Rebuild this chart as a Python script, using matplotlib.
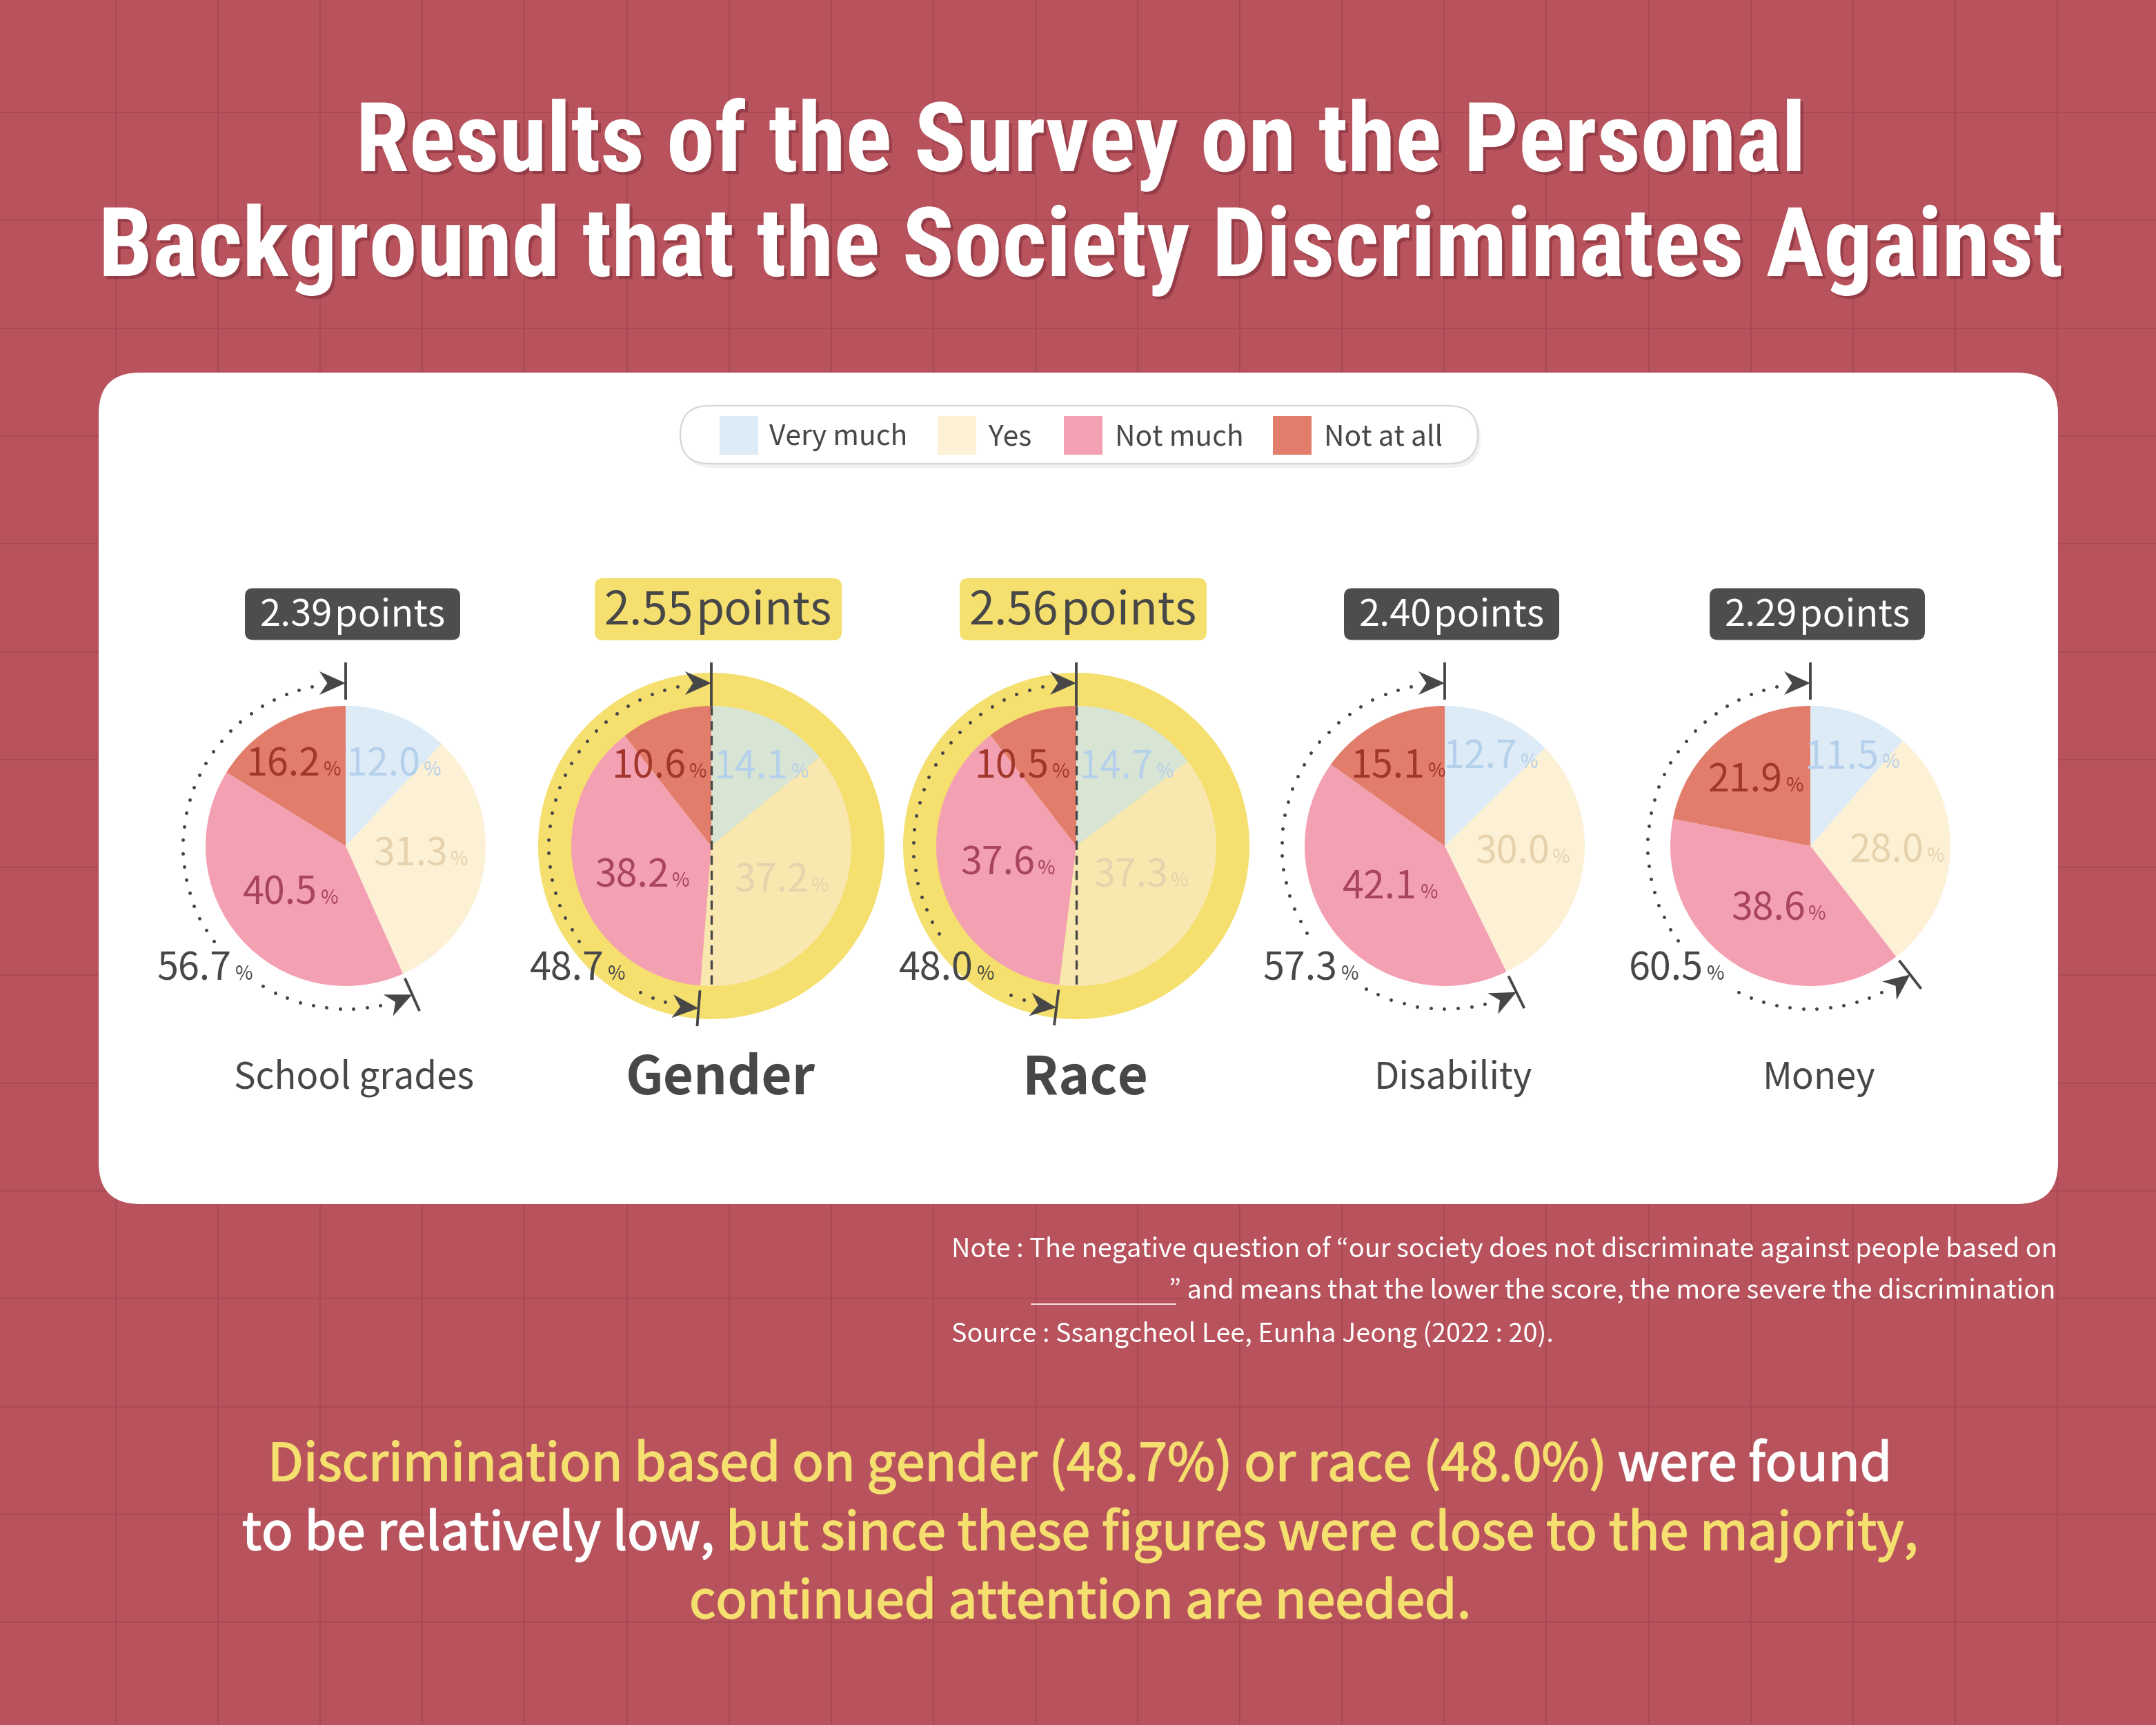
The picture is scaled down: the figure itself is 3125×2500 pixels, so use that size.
import numpy as np
import matplotlib
matplotlib.use('Agg')
import matplotlib.pyplot as plt
from matplotlib.patches import FancyBboxPatch, Circle, Polygon, Rectangle
import matplotlib.patheffects as pe

# ---- data ----
categories = ['School grades', 'Gender', 'Race', 'Disability', 'Money']
responses = ['Very much', 'Yes', 'Not much', 'Not at all']
very_much = [12.0, 14.1, 14.7, 12.7, 11.5]
yes = [31.3, 37.2, 37.3, 30.0, 28.0]
not_much = [40.5, 38.2, 37.6, 42.1, 38.6]
not_at_all = [16.2, 10.6, 10.5, 15.1, 21.9]
negative_total = [56.7, 48.7, 48.0, 57.3, 60.5]
scores = [2.39, 2.55, 2.56, 2.40, 2.29]
highlighted = [False, True, True, False, False]

title_lines = ['Results of the Survey on the Personal',
               'Background that the Society Discriminates Against']
note_1 = 'Note : The negative question of \u201cour society does not discriminate against people based on'
note_2 = '\u201d and means that the lower the score, the more severe the discrimination'
note_3 = 'Source : Ssangcheol Lee, Eunha Jeong (2022 : 20).'

# ---- layout / style ----
W, H = 3125, 2500
BG = '#b8535d'
GRID = '#a64852'
YELLOW = '#f5df6e'
DARK = '#474747'
COLORS = ['#dcebf6', '#fcf0d5', '#f4a0b3', '#e17d6a']
HL_COLORS = ['#d9e5d4', '#f9e7b0', '#f4a0b3', '#e17d6a']
LABEL_COLORS = ['#b5d0ea', '#e6d3ad', '#a9445e', '#a0372a']
SANS = ['Noto Sans CJK KR', 'Noto Sans', 'DejaVu Sans']
TITLE = ['Roboto Condensed', 'Liberation Sans Narrow', 'Noto Sans CJK KR', 'DejaVu Sans']

CX = [501, 1031, 1560, 2094, 2624]
CY = 1226
R = 203
RING = 251
ARC_R = 236
# label centre offsets (px, y downwards) for very much, yes, not much, not at all, total
LABEL_OFFS = [
    [(69, -120), (109, 10), (-80, 66), (-76, -120), (-204, 176)],
    [(72, -117), (102, 48), (-100, 41), (-76, -117), (-194, 176)],
    [(72, -117), (94, 41), (-99, 23), (-79, -117), (-188, 176)],
    [(66, -131), (113, 7), (-79, 58), (-68, -118), (-194, 176)],
    [(60, -131), (126, 5), (-46, 89), (-79, -97), (-194, 176)],
]
PX = 100 / 72

fig = plt.figure(figsize=(W / 100, H / 100), dpi=100, facecolor=BG)
ax = fig.add_axes([0, 0, 1, 1])
ax.set_facecolor(BG)


def reset():
    ax.set_xlim(0, W)
    ax.set_ylim(0, H)
    ax.set_aspect('auto')
    ax.axis('off')


reset()
rend = fig.canvas.get_renderer()


def runs(x, base, parts, size, family=SANS, ha='center', target=None, zorder=10, effects=None):
    # parts: (text, colour, weight, relative size, gap before in em)
    def build(sz):
        return [ax.text(0, H - base, t, fontsize=sz * rel, color=c, fontweight=w,
                        family=family, ha='left', va='baseline', zorder=zorder)
                for t, c, w, rel, g in parts]

    def measure(objs, sz):
        ws = [o.get_window_extent(rend).width for o in objs]
        gs = [p[4] * sz * PX for p in parts]
        return ws, gs, sum(ws) + sum(gs)

    objs = build(size)
    ws, gs, total = measure(objs, size)
    if target is not None:
        for o in objs:
            o.remove()
        size = size * target / total
        objs = build(size)
        ws, gs, total = measure(objs, size)
    cur = {'center': x - total / 2, 'right': x - total, 'left': x}[ha]
    for o, w, g in zip(objs, ws, gs):
        cur += g
        o.set_x(cur)
        cur += w
        if effects:
            o.set_path_effects(effects)
    return objs, size


# background grid
for gx in 168 + 148.1 * np.arange(20):
    ax.plot([gx, gx], [0, H], color=GRID, lw=1.3, zorder=0.5)
for gy in 163 + 156.3 * np.arange(15):
    ax.plot([0, W], [H - gy, H - gy], color=GRID, lw=1.1, zorder=0.5)

# title
shadow = [pe.withSimplePatchShadow(offset=(3, -3), shadow_rgbFace='#7a2c36', alpha=0.55)]
_, tsize = runs(1567, 400, [(title_lines[1], 'white', 'black', 1, 0)], 100,
                family=TITLE, target=2848, effects=shadow)
runs(1567, 248, [(title_lines[0], 'white', 'black', 1, 0)], tsize, family=TITLE, effects=shadow)

# white panel
ax.add_patch(FancyBboxPatch((143, H - 1745), 2840, 1205,
                            boxstyle='round,pad=0,rounding_size=60',
                            fc='white', ec='none', zorder=1))

# legend pill
ax.add_patch(FancyBboxPatch((990, H - 678), 1156, 84, boxstyle='round,pad=0,rounding_size=42',
                            fc='#000000', ec='none', alpha=0.06, zorder=2))
ax.add_patch(FancyBboxPatch((986, H - 672), 1156, 84, boxstyle='round,pad=0,rounding_size=42',
                            fc='white', ec='#d6d6d6', lw=1.6, zorder=3))
leg_sq = [1043, 1359, 1542, 1845]
leg_tx = [1115, 1432, 1616, 1919]
_, lsize = runs(leg_tx[0], 645, [(responses[0], DARK, 'normal', 1, 0)], 30, ha='left', target=200)
for j in range(4):
    ax.add_patch(Rectangle((leg_sq[j], H - 659), 56, 56, fc=COLORS[j], ec='none', zorder=4))
    if j:
        runs(leg_tx[j], 645, [(responses[j], DARK, 'normal', 1, 0)], lsize, ha='left')

NUM = 40
CAP = 0.66 * NUM * PX
ARW_L, ARW_W = 38, 34


def arrow(tip, d):
    d = np.asarray(d) / np.hypot(*d)
    n = np.array([-d[1], d[0]])
    tip = np.asarray(tip)
    pts = [tip, tip - ARW_L * d + ARW_W / 2 * n, tip - 0.7 * ARW_L * d, tip - ARW_L * d - ARW_W / 2 * n]
    ax.add_patch(Polygon(pts, closed=True, fc=DARK, ec='none', zorder=7))


for i in range(len(categories)):
    cx, cy = CX[i], H - CY
    hl = highlighted[i]
    vals = [very_much[i], yes[i], not_much[i], not_at_all[i]]
    if hl:
        ax.add_patch(Circle((cx, cy), RING, fc=YELLOW, ec='none', zorder=2))
    ax.pie(vals, colors=HL_COLORS if hl else COLORS, startangle=90, counterclock=False,
           radius=R, center=(cx, cy), wedgeprops=dict(linewidth=0, zorder=3))
    reset()

    def pol(phi, r):
        return cx + r * np.sin(phi), cy + r * np.cos(phi)

    phi_b = 2 * np.pi * (vals[0] + vals[1]) / sum(vals)

    # ticks and dashed split line
    x0, y0 = pol(0, R if hl else 212)
    x1, y1 = pol(0, 266)
    ax.plot([x0, x1], [y0, y1], color=DARK, lw=2.8, zorder=6, solid_capstyle='butt')
    x0, y0 = pol(phi_b, 210)
    x1, y1 = pol(phi_b, 262)
    ax.plot([x0, x1], [y0, y1], color=DARK, lw=2.8, zorder=6, solid_capstyle='butt')
    if hl:
        ax.plot([cx, cx], [cy + R, cy - R], color=DARK, lw=2.4, ls=(0, (4, 2.5)), zorder=6)

    # arrows
    arrow(pol(0, ARC_R), (1, 0))
    arrow(pol(phi_b, ARC_R), (-np.cos(phi_b), np.sin(phi_b)))

    # percentage labels
    for j in range(4):
        dx, dy = LABEL_OFFS[i][j]
        runs(cx + dx, CY + dy + CAP / 2,
             [(f'{vals[j]:.1f}', LABEL_COLORS[j], 'normal', 1, 0),
              ('%', LABEL_COLORS[j], 'normal', 0.5, 0.08)], NUM, zorder=8)
    dx, dy = LABEL_OFFS[i][4]
    tot, _ = runs(cx + dx, CY + dy + CAP / 2,
                  [(f'{negative_total[i]:.1f}', DARK, 'normal', 1, 0),
                   ('%', DARK, 'normal', 0.5, 0.1)], NUM, zorder=8)
    bb = [o.get_window_extent(rend) for o in tot]
    bx0, bx1 = min(b.x0 for b in bb) - 10, max(b.x1 for b in bb) + 10
    by0, by1 = min(b.y0 for b in bb) - 10, max(b.y1 for b in bb) + 10

    # dotted arc over the negative share
    a0 = phi_b + (ARW_L + 11) / ARC_R
    a1 = 2 * np.pi - (ARW_L + 11) / ARC_R
    n = int((a1 - a0) * ARC_R / 19.4)
    phis = np.linspace(a0, a1, n + 1)
    xs, ys = pol(phis, ARC_R)
    keep = ~((xs > bx0) & (xs < bx1) & (ys > by0) & (ys < by1))
    ax.plot(xs[keep], ys[keep], 'o', ms=3.6, mew=0, color=DARK, zorder=6)

    # score badge
    bw, bh = (358, 90) if hl else (312, 75)
    bcy = 883 if hl else 890
    bsz = 48 if hl else 39
    ax.add_patch(FancyBboxPatch((cx + 10 - bw / 2, H - bcy - bh / 2), bw, bh,
                                boxstyle='round,pad=0,rounding_size=12',
                                fc=YELLOW if hl else '#4d4d4d', ec='none', zorder=4))
    tc = DARK if hl else 'white'
    runs(cx + 10, bcy + 0.66 * bsz * PX / 2,
         [(f'{scores[i]:.2f}', tc, 'normal', 1, 0), ('points', tc, 'normal', 1, 0.06)], bsz)

    # category name
    if hl:
        runs(cx + 13, 1586, [(categories[i], DARK, 'bold', 1, 0)], 55)
    else:
        runs(cx + 12, 1578, [(categories[i], DARK, 'normal', 1, 0)], 38)

# note and source
_, nsize = runs(1379, 1822, [(note_1, 'white', 'normal', 1, 0)], 28, ha='left', target=1600)
runs(2979, 1882, [(note_2, 'white', 'normal', 1, 0)], nsize, ha='right')
ax.plot([1495, 1704], [H - 1890, H - 1890], color='white', lw=1.2, zorder=5)
runs(1379, 1945, [(note_3, 'white', 'normal', 1, 0)], nsize, ha='left')

# closing message (slight stroke to mimic the medium weight)
thick_y = [pe.withStroke(linewidth=1.3, foreground=YELLOW)]
thick_w = [pe.withStroke(linewidth=1.3, foreground='white')]
line2 = [('to be relatively low,', 'white', 'normal', 1, 0),
         ('but since these figures were close to the majority,', YELLOW, 'normal', 1, 0.22)]
objs, msize = runs(1565, 2246, line2, 50, target=2429)
objs[0].set_path_effects(thick_w)
objs[1].set_path_effects(thick_y)
objs, _ = runs(1565, 2146, [('Discrimination based on gender (48.7%) or race (48.0%)', YELLOW, 'normal', 1, 0),
                            ('were found', 'white', 'normal', 1, 0.22)], msize)
objs[0].set_path_effects(thick_y)
objs[1].set_path_effects(thick_w)
runs(1565, 2345, [('continued attention are needed.', YELLOW, 'normal', 1, 0)], msize, effects=thick_y)

fig.savefig('out.png', dpi=100, facecolor=BG)
